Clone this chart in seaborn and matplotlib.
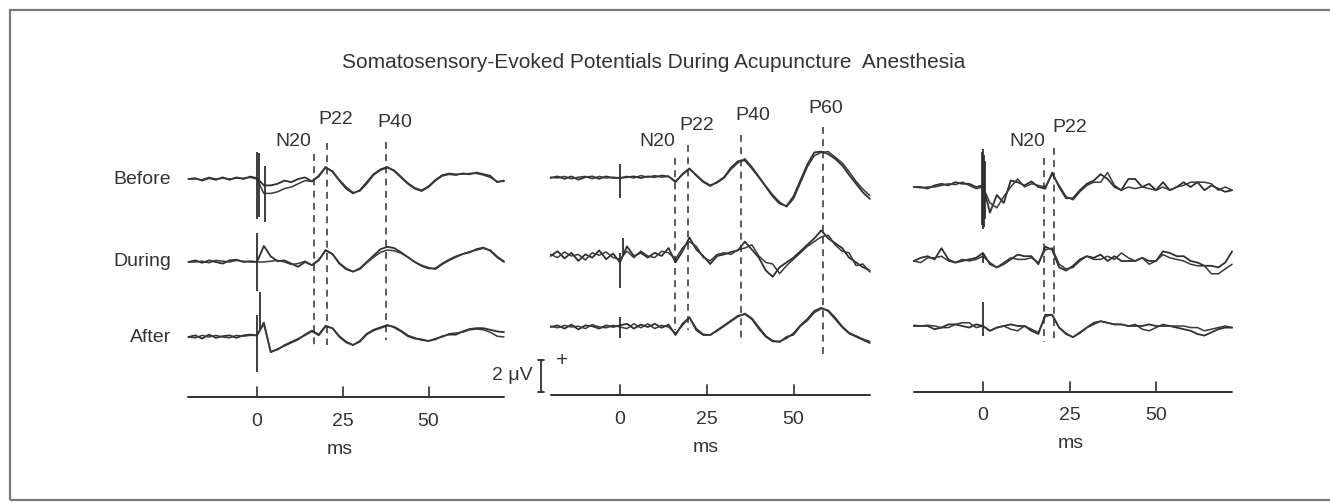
import matplotlib
matplotlib.use("Agg")
import numpy as np
import pandas as pd
import matplotlib.pyplot as plt
from matplotlib.patches import Rectangle
import seaborn as sns

sns.set_theme(style="white")
plt.rcParams['font.family'] = ['Liberation Sans', 'DejaVu Sans']

# ---- data (amplitudes in microvolts, positive up) ----
time_ms = list(range(-20, 73, 2))
row_names = ["Before", "During", "After"]
tick_ms = [0, 25, 50]

# panel 1
p1_before_a = [0.0, 0.05, -0.1, 0.05, -0.05, 0.1, -0.05, 0.1, 0.0, 0.15,
               0.05,
               -0.4, -0.4, -0.3, -0.1, -0.2, 0.0, 0.1, -0.15,
               0.2, 0.75, 0.45, -0.1, -0.6, -0.9, -0.7, -0.2, 0.3, 0.6, 0.75, 0.5, 0.1, -0.3, -0.6,
               -0.75, -0.5, -0.1, 0.2, 0.3, 0.25, 0.35, 0.3, 0.4, 0.3, 0.2, -0.2, -0.1]
p1_before_b = [0.0, 0.0, -0.05, 0.1, 0.0, 0.05, 0.0, 0.05, 0.05, 0.1,
               0.0,
               -0.9, -0.9, -0.8, -0.6, -0.5, -0.3, -0.1, -0.15,
               0.15, 0.7, 0.5, -0.05, -0.5, -0.85, -0.75, -0.3, 0.25, 0.55, 0.7, 0.55, 0.15, -0.25, -0.55,
               -0.7, -0.45, -0.05, 0.25, 0.35, 0.3, 0.3, 0.35, 0.35, 0.25, 0.1, -0.15, -0.15]
p1_during_a = [0.0, 0.1, -0.05, 0.1, 0.0, -0.1, 0.1, 0.15, 0.0, 0.05,
               0.0,
               1.0, 0.35, 0.05, 0.1, -0.1, -0.3, 0.0, -0.2,
               0.1, 0.75, 0.5, -0.1, -0.45, -0.6, -0.4, 0.0, 0.4, 0.8, 0.95, 0.87, 0.6, 0.3, 0.0,
               -0.25, -0.4, -0.4, -0.1, 0.15, 0.35, 0.5, 0.6, 0.8, 0.9, 0.7, 0.3, 0.0]
p1_during_b = [0.0, 0.0, 0.05, -0.05, 0.1, 0.05, 0.0, 0.1, 0.05, 0.0,
               0.0,
               0.0, 0.05, 0.1, 0.0, -0.15, -0.1, 0.05, -0.2,
               0.15, 0.7, 0.5, -0.05, -0.4, -0.6, -0.45, -0.05, 0.3, 0.6, 0.75, 0.7, 0.55, 0.3, 0.0,
               -0.2, -0.35, -0.45, -0.15, 0.1, 0.3, 0.5, 0.65, 0.75, 0.85, 0.75, 0.35, 0.05]
p1_after_a = [0.0, 0.1, -0.1, 0.15, -0.05, 0.05, 0.1, -0.05, 0.1, 0.15,
              0.1,
              0.9, -0.95, -0.75, -0.55, -0.35, -0.15, 0.15, 0.4,
              0.15, 0.7, 0.55, 0.05, -0.3, -0.5, -0.25, 0.2, 0.45, 0.6, 0.75, 0.6, 0.35, 0.05, -0.1,
              -0.15, -0.25, -0.15, 0.05, 0.15, 0.15, 0.35, 0.5, 0.55, 0.55, 0.45, 0.35, 0.3]
p1_after_b = [0.0, -0.05, 0.1, 0.0, 0.1, 0.0, -0.05, 0.1, 0.05, 0.1,
              0.1,
              0.8, -0.9, -0.8, -0.5, -0.3, -0.1, 0.1, 0.35,
              0.1, 0.65, 0.55, 0.0, -0.35, -0.5, -0.3, 0.15, 0.4, 0.55, 0.7, 0.65, 0.4, 0.1, -0.05,
              -0.2, -0.25, -0.1, 0.0, 0.2, 0.25, 0.3, 0.45, 0.5, 0.45, 0.3, 0.05, 0.0]

# panel 2
p2_before_a = [0.0, 0.1, -0.05, 0.1, -0.1, 0.05, 0.1, -0.05, 0.1, 0.0,
               0.0,
               0.05, 0.1, 0.0, 0.1, 0.05, 0.15, 0.1, -0.25,
               0.25, 0.6, 0.15, -0.25, -0.5, -0.25, 0.05, 0.65, 1.05, 1.1, 0.6, 0.05, -0.55, -1.15,
               -1.6, -1.75, -1.15, -0.15, 0.85, 1.6, 1.65, 1.5, 1.2, 0.8, 0.2, -0.35, -0.9, -1.3]
p2_before_b = [0.05, 0.0, 0.1, -0.05, 0.05, 0.1, -0.05, 0.1, 0.0, 0.05,
               0.0,
               0.1, 0.0, 0.15, 0.05, 0.15, 0.05, 0.1, -0.2,
               0.2, 0.55, 0.2, -0.2, -0.45, -0.3, 0.0, 0.55, 0.95, 1.2, 0.7, 0.1, -0.5, -1.05,
               -1.5, -1.8, -1.3, -0.3, 0.7, 1.4, 1.6, 1.65, 1.3, 0.95, 0.4, -0.2, -0.7, -1.1]
p2_during_a = [0.0, 0.3, -0.15, 0.2, -0.3, 0.1, -0.1, 0.35, -0.2, 0.15,
               -0.4,
               0.6, 0.0, 0.2, -0.1, 0.2, 0.0, 0.5, -0.4,
               0.3, 1.15, 0.4, 0.0, -0.5, 0.0, 0.1, 0.25, 0.35, 0.9, 0.4, -0.1, -0.9, -1.3,
               -0.7, -0.4, -0.1, 0.3, 0.7, 1.1, 1.6, 1.1, 0.8, 0.5, -0.1, -0.4, -0.7, -0.9]
p2_during_b = [0.1, -0.1, 0.25, 0.0, 0.1, -0.25, 0.2, 0.05, 0.25, -0.1,
               -0.2,
               0.3, -0.1, 0.3, 0.0, -0.1, 0.3, 0.2, -0.2,
               0.5, 0.9, 0.6, -0.1, -0.3, 0.1, 0.2, 0.1, 0.4, 0.5, 0.7, 0.0, -0.4, -0.5,
               -1.1, -0.6, -0.2, 0.2, 0.6, 0.9, 1.2, 1.3, 0.7, 0.3, 0.2, -0.6, -0.5, -1.0]
p2_after_a = [0.0, 0.1, -0.1, 0.15, -0.15, 0.1, 0.05, -0.1, 0.1, 0.0,
              0.1,
              0.2, -0.1, 0.15, 0.0, 0.2, -0.05, 0.15, -0.5,
              0.2, 0.6, -0.2, -0.5, -0.5, -0.2, 0.1, 0.4, 0.7, 0.8, 0.5, -0.1, -0.6, -0.9,
              -0.9, -0.7, -0.4, 0.1, 0.5, 1.0, 1.2, 1.0, 0.5, 0.0, -0.4, -0.6, -0.8, -1.0]
p2_after_b = [0.05, -0.05, 0.1, 0.0, 0.05, -0.1, 0.15, 0.0, -0.05, 0.1,
              0.0,
              -0.1, 0.2, -0.05, 0.2, -0.1, 0.1, 0.0, -0.4,
              0.1, 0.6, -0.1, -0.45, -0.5, -0.25, 0.05, 0.35, 0.65, 0.85, 0.55, 0.0, -0.55, -0.85,
              -0.95, -0.6, -0.5, 0.05, 0.4, 0.9, 1.15, 1.05, 0.6, 0.05, -0.35, -0.55, -0.75, -0.9]

# panel 3
p3_before_a = [0.0, 0.0, -0.1, 0.1, 0.2, 0.1, 0.3, 0.2, 0.2, 0.0,
               0.1,
               -1.6, -0.5, -1.0, 0.4, 0.3, 0.1, 0.35, 0.0,
               -0.1, 0.9, 0.0, -0.7, -0.7, -0.2, 0.2, 0.4, 0.8, 0.5, 0.0, -0.2, 0.5, 0.5,
               0.0, 0.2, -0.2, 0.3, -0.2, 0.0, 0.3, 0.0, 0.3, -0.2, 0.1, -0.1, -0.3, -0.2]
p3_before_b = [0.0, -0.05, 0.0, 0.0, 0.1, 0.2, 0.15, 0.3, 0.1, -0.1,
               0.0,
               -1.0, -1.3, -0.6, 0.0, 0.5, 0.0, 0.2, 0.1,
               0.0, 0.8, 0.1, -0.6, -0.8, -0.3, 0.1, 0.3, 0.3, 0.9, 0.1, -0.2, 0.0, -0.1,
               0.0, -0.1, -0.2, 0.0, -0.2, 0.0, 0.1, 0.3, 0.3, 0.3, 0.2, -0.2, 0.0, -0.2]
p3_during_a = [0.0, 0.2, 0.3, 0.1, 0.8, 0.1, -0.1, 0.0, 0.1, 0.2,
               0.5,
               -0.2, -0.4, -0.2, 0.1, 0.4, 0.3, 0.3, -0.2,
               0.9, 0.7, -0.4, -0.6, -0.3, 0.1, 0.3, 0.2, 0.4, 0.0, 0.3, 0.0, 0.0, 0.0,
               0.2, 0.0, 0.0, 0.6, 0.5, 0.3, 0.3, 0.0, -0.1, -0.3, -0.3, -0.4, -0.1, 0.6]
p3_during_b = [0.0, -0.1, 0.2, 0.2, 0.3, 0.0, -0.1, 0.1, 0.0, 0.1,
               0.3,
               -0.1, -0.4, -0.1, 0.2, 0.1, 0.1, 0.2, -0.1,
               0.7, 0.8, -0.2, -0.5, -0.4, 0.0, 0.3, 0.1, 0.1, 0.3, 0.1, 0.5, 0.2, 0.0,
               0.2, -0.2, 0.0, 0.4, 0.2, 0.1, 0.0, -0.2, -0.3, -0.3, -0.8, -0.8, -0.5, -0.2]
p3_after_a = [0.0, 0.0, 0.0, -0.2, -0.1, 0.1, 0.1, 0.0, -0.1, 0.1,
              0.0,
              -0.3, -0.1, 0.0, 0.1, 0.0, 0.0, -0.3, -0.5,
              0.7, 0.7, -0.1, -0.5, -0.7, -0.4, -0.1, 0.2, 0.3, 0.2, 0.1, 0.1, 0.0, 0.0,
              0.0, 0.1, 0.0, 0.0, 0.0, -0.1, -0.2, -0.3, -0.5, -0.6, -0.4, -0.2, -0.1, -0.1]
p3_after_b = [0.05, 0.0, 0.05, 0.0, -0.1, -0.1, 0.1, 0.2, 0.2, -0.1,
              0.0,
              -0.3, -0.1, 0.0, -0.2, -0.3, 0.0, -0.2, -0.4,
              0.6, 0.7, -0.1, -0.45, -0.7, -0.45, -0.1, 0.1, 0.3, 0.2, 0.1, 0.1, 0.0, 0.1,
              -0.2, -0.3, -0.1, 0.1, 0.0, 0.0, 0.0, -0.1, -0.1, -0.3, -0.2, -0.1, 0.0, -0.1]

# stimulus artifacts: time, top, bottom (uV), per row
p1_artifacts = [([0.0, 0.6, 2.2], [1.7, 1.6, 0.8], [-2.5, -2.4, -2.7]),
                ([0.0], [1.8], [-1.8]),
                ([0.0, 0.8], [1.4, 2.8], [-2.2, 0.5])]
p2_artifacts = [([0.0], [0.9], [-1.25]),
                ([0.0, 0.8], [0.2, 1.1], [-2.0, 0.0]),
                ([0.0], [0.6], [-0.7])]
p3_artifacts = [([-0.3, 0.0, 0.3, 0.6], [2.2, 2.4, 2.0, 1.6], [-2.4, -2.6, -2.5, -2.0]),
                ([0.0], [0.5], [-0.1]),
                ([0.0], [1.5], [-0.65])]

# peak latencies (ms)
p1_peak_names = ["N20", "P22", "P40"]
p1_peak_ms = [16.7, 20.5, 37.7]
p2_peak_names = ["N20", "P22", "P40", "P60"]
p2_peak_ms = [15.9, 19.7, 35.0, 58.4]
p3_peak_names = ["N20", "P22"]
p3_peak_ms = [17.6, 20.5]

# ---- layout (pixels) ----
W, H = 1330, 503
UV_PX = 16.0
INK = "#2f2f2f"
TXT = "#333333"
FS = 14

panels = [
    dict(zero=257, ppm=3.43, rows=[179, 262, 337], axis=397,
         traces=[(p1_before_a, p1_before_b), (p1_during_a, p1_during_b), (p1_after_a, p1_after_b)],
         artifacts=p1_artifacts, names=p1_peak_names, peaks=p1_peak_ms,
         dash=[(154, 348), (143, 345), (142, 340)],
         lab=[(293, 142), (336, 119), (395, 122)], ms_x=340),
    dict(zero=620, ppm=3.47, rows=[178, 256, 327], axis=395,
         traces=[(p2_before_a, p2_before_b), (p2_during_a, p2_during_b), (p2_after_a, p2_after_b)],
         artifacts=p2_artifacts, names=p2_peak_names, peaks=p2_peak_ms,
         dash=[(158, 330), (145, 330), (135, 343), (127, 355)],
         lab=[(657, 142), (697, 125), (753, 115), (826, 108)], ms_x=706),
    dict(zero=983, ppm=3.46, rows=[187, 261, 326], axis=392,
         traces=[(p3_before_a, p3_before_b), (p3_during_a, p3_during_b), (p3_after_a, p3_after_b)],
         artifacts=p3_artifacts, names=p3_peak_names, peaks=p3_peak_ms,
         dash=[(158, 342), (148, 340)],
         lab=[(1027, 142), (1070, 127)], ms_x=1071),
]

fig = plt.figure(figsize=(W / 100, H / 100), dpi=100)
fig.patch.set_facecolor("white")


def uv(py):
    return -py / UV_PX


axes = []
for i, p in enumerate(panels):
    lo, hi = -30.0, 78.0
    left = p["zero"] + lo * p["ppm"]
    ax = fig.add_axes([left / W, 0, (hi - lo) * p["ppm"] / W, 1])
    ax.set_xlim(lo, hi)
    ax.set_ylim(-H / UV_PX, 0)
    ax.axis("off")
    axes.append(ax)

    t = np.array(time_ms)
    for r, (a, b) in enumerate(p["traces"]):
        off = uv(p["rows"][r])
        df = pd.DataFrame({"t": t, "a": np.array(a) + off, "b": np.array(b) + off})
        sns.lineplot(data=df, x="t", y="a", ax=ax, color=INK, lw=1.3, estimator=None, sort=False)
        sns.lineplot(data=df, x="t", y="b", ax=ax, color="#3a3a3a", lw=1.1, estimator=None, sort=False)
        at, atop, abot = p["artifacts"][r]
        ax.vlines(at, np.array(abot) + off, np.array(atop) + off, color=INK, lw=1.3)
        if i == 0:
            ax.text(lo + (171 - left) / p["ppm"], off, row_names[r], ha="right", va="center",
                    fontsize=FS, color=TXT)

    # dashed peak markers and labels
    for k, pk in enumerate(p["peaks"]):
        top, bot = p["dash"][k]
        ax.plot([pk, pk], [uv(top), uv(bot)], color=INK, lw=1.1, dashes=(4.5, 3.5))
        lx, ly = p["lab"][k]
        ax.text((lx - p["zero"]) / p["ppm"], uv(ly), p["names"][k], ha="center", va="center",
                fontsize=FS, color=TXT)

    # time axis
    ya = uv(p["axis"])
    ax.plot([time_ms[0], time_ms[-1]], [ya, ya], color=INK, lw=1.4)
    for tk in tick_ms:
        ax.plot([tk, tk], [ya, ya + 10 / UV_PX], color=INK, lw=1.2)
        ax.text(tk, uv(p["axis"] + 24), str(tk), ha="center", va="center", fontsize=FS, color=TXT)
    ax.text((p["ms_x"] - p["zero"]) / p["ppm"], uv(p["axis"] + 52), "ms", ha="center", va="center",
            fontsize=FS, color=TXT)

# calibration bar (2 uV) between first and second panel
ax2 = axes[1]
p2 = panels[1]
xb = (541 - p2["zero"]) / p2["ppm"]
bar_bot = uv(392)
ax2.plot([xb, xb], [bar_bot, bar_bot + 2.0], color=INK, lw=1.3, clip_on=False)
for yy in (bar_bot, bar_bot + 2.0):
    ax2.plot([xb - 1.0, xb + 1.0], [yy, yy], color=INK, lw=1.3, clip_on=False)
ax2.text(xb - 2.3, bar_bot + 1.0, "2 \u03bcV", ha="right", va="center", fontsize=FS, color=TXT)
ax2.text(xb + 6.0, bar_bot + 2.0, "+", ha="center", va="center", fontsize=15, color=TXT)

fig.text(654 / W, 1 - 63 / H, "Somatosensory-Evoked Potentials During Acupuncture  Anesthesia",
         ha="center", va="center", fontsize=15, color=TXT)

fig.add_artist(Rectangle((10 / W, 1 - 500 / H), 1340 / W, 490 / H, transform=fig.transFigure,
                         fill=False, ec="#7a7a7a", lw=1.6))

fig.savefig("out.png", dpi=100, facecolor="white")
